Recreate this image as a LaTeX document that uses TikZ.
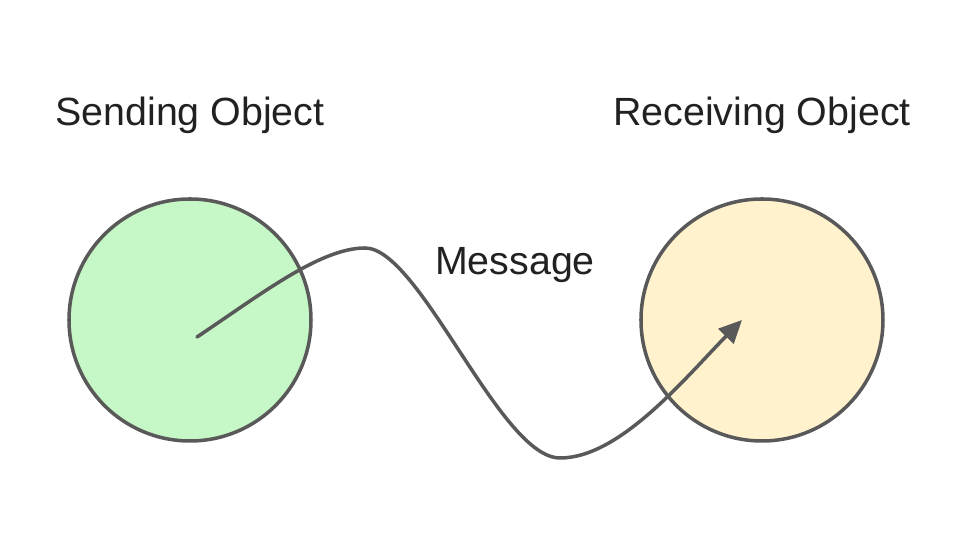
\documentclass[tikz,border=0pt]{standalone}
\usepackage{fontspec}
\setmainfont{Liberation Sans}
\usepackage{xcolor}
\usetikzlibrary{arrows.meta}

\definecolor{linegray}{HTML}{595959}
\definecolor{sendgreen}{HTML}{C6F7C6}
\definecolor{recvyellow}{HTML}{FFF2CC}
\definecolor{textdark}{HTML}{212121}

\tikzset{
  obj/.style={circle, draw=linegray, line width=1pt, minimum size=2.42cm, inner sep=0pt},
  lbl/.style={text=textdark, font=\fontsize{11.2pt}{14pt}\selectfont}
}

\begin{document}
\begin{tikzpicture}
\useasboundingbox (0,0) rectangle (9.6,5.4);
% the two objects
\node[obj, fill=sendgreen] (send) at (1.9, 2.2) {};
\node[obj, fill=recvyellow] (recv) at (7.62, 2.2) {};
% titles above them
\node[lbl] (sendlbl) at (1.9, 4.25) {Sending Object};
\node[lbl] (recvlbl) at (7.62, 4.25) {Receiving Object};
% the message wave
\coordinate (start) at (1.97, 2.03);
\coordinate (peak) at (3.65, 2.92);
\coordinate (dip) at (5.60, 0.82);
\coordinate (stop) at (7.42, 2.20);
\draw[linegray, line width=1pt, line cap=round, -{Triangle[length=2.3mm, width=2.1mm]}]
  (start) .. controls (2.6, 2.45) and (3.2, 2.92) .. (peak)
  .. controls (4.2, 2.92) and (5.0, 0.82) .. (dip)
  .. controls (6.2, 0.82) and (6.85, 1.62) .. (stop);
\node[lbl] (msg) at (5.15, 2.75) {Message};
\end{tikzpicture}
\end{document}
